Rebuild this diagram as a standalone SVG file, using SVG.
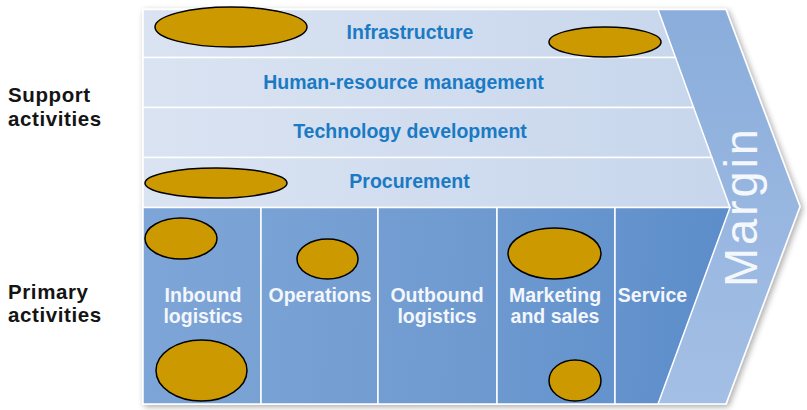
<svg xmlns="http://www.w3.org/2000/svg" width="807" height="410" viewBox="0 0 807 410">
  <defs>
    <linearGradient id="gSup" gradientUnits="userSpaceOnUse" x1="143" y1="0" x2="730" y2="0">
      <stop offset="0" stop-color="#dae3f2"/>
      <stop offset="1" stop-color="#c7d6ec"/>
    </linearGradient>
    <linearGradient id="gPri" gradientUnits="userSpaceOnUse" x1="143" y1="260" x2="730" y2="300">
      <stop offset="0" stop-color="#7ea5d7"/>
      <stop offset="0.5" stop-color="#719cd1"/>
      <stop offset="1" stop-color="#5c8dca"/>
    </linearGradient>
    <linearGradient id="gMar" gradientUnits="userSpaceOnUse" x1="0" y1="9" x2="0" y2="404">
      <stop offset="0" stop-color="#8aaddb"/>
      <stop offset="1" stop-color="#a4bfe5"/>
    </linearGradient>
    <filter id="shadow" x="-5%" y="-5%" width="110%" height="115%">
      <feGaussianBlur in="SourceAlpha" stdDeviation="3"/>
      <feOffset dx="2" dy="2" result="b"/>
      <feComponentTransfer><feFuncA type="linear" slope="0.35"/></feComponentTransfer>
      <feMerge><feMergeNode/><feMergeNode in="SourceGraphic"/></feMerge>
    </filter>
  </defs>
  <style>
    .sup { font-family: "Liberation Sans", Arial, sans-serif; font-weight: bold; font-size: 19.5px; fill: #1a7ac4; text-anchor: middle; }
    .pri { font-family: "Liberation Sans", Arial, sans-serif; font-weight: bold; font-size: 19.5px; fill: #f3f6fb; text-anchor: middle; }
    .side { font-family: "Liberation Sans", Arial, sans-serif; font-weight: bold; font-size: 20.5px; letter-spacing: 0.6px; fill: #141414; }
    .row { fill: url(#gSup); stroke: #ffffff; stroke-width: 1.5; }
    .cell { fill: url(#gPri); stroke: #ffffff; stroke-width: 1.5; }
    .blob { fill: #cc9900; stroke: #000000; stroke-width: 1.5; }
    .mtext { font-family: "Liberation Sans", Arial, sans-serif; font-size: 47px; fill: #f4f7fc; }
  </style>

  <rect width="807" height="410" fill="#ffffff"/>

  <g id="labels">
    <text class="side" x="8" y="102">Support</text>
    <text class="side" x="8" y="125.5">activities</text>
    <text class="side" x="8" y="298.5">Primary</text>
    <text class="side" x="8" y="322">activities</text>
  </g>

  <g id="margin">
    <polygon points="143,9.5 726,9.5 800,206.5 726,404 143,404" fill="url(#gMar)" stroke="#ffffff" stroke-width="1.5" filter="url(#shadow)"/>
    <text class="mtext" transform="translate(757,287) rotate(-90)" x="0" y="0" textLength="158" lengthAdjust="spacing">Margin</text>
  </g>

  <g id="infrastructure">
    <polygon class="row" points="143,9.5 658,9.5 675.5,57.5 143,57.5"/>
    <text class="sup" x="410" y="39">Infrastructure</text>
  </g>
  <g id="hr-management">
    <polygon class="row" points="143,57.5 675.5,57.5 693.6,107.5 143,107.5"/>
    <text class="sup" x="403.5" y="88.5">Human-resource management</text>
  </g>
  <g id="technology-development">
    <polygon class="row" points="143,107.5 693.6,107.5 711.8,157.5 143,157.5"/>
    <text class="sup" x="410" y="138">Technology development</text>
  </g>
  <g id="procurement">
    <polygon class="row" points="143,157.5 711.8,157.5 730,207.5 143,207.5"/>
    <text class="sup" x="409.5" y="188">Procurement</text>
  </g>

  <g id="inbound-logistics">
    <polygon class="cell" points="143,207.5 261,207.5 261,404 143,404"/>
    <text class="pri" x="203" y="302">Inbound</text>
    <text class="pri" x="203" y="322.5">logistics</text>
  </g>
  <g id="operations">
    <polygon class="cell" points="261,207.5 378,207.5 378,404 261,404"/>
    <text class="pri" x="320" y="302">Operations</text>
  </g>
  <g id="outbound-logistics">
    <polygon class="cell" points="378,207.5 497,207.5 497,404 378,404"/>
    <text class="pri" x="437" y="302">Outbound</text>
    <text class="pri" x="437" y="322.5">logistics</text>
  </g>
  <g id="marketing-and-sales">
    <polygon class="cell" points="497,207.5 615,207.5 615,404 497,404"/>
    <text class="pri" x="555" y="302">Marketing</text>
    <text class="pri" x="555" y="322.5">and sales</text>
  </g>
  <g id="service">
    <polygon class="cell" points="615,207.5 730,207.5 658,404 615,404"/>
    <text class="pri" x="652.5" y="302">Service</text>
  </g>

  <g id="highlights">
    <ellipse class="blob" cx="231" cy="27" rx="76" ry="20"/>
    <ellipse class="blob" cx="605" cy="42" rx="56" ry="15"/>
    <ellipse class="blob" cx="216" cy="183" rx="71" ry="15"/>
    <ellipse class="blob" cx="181" cy="238.5" rx="36" ry="20.5"/>
    <ellipse class="blob" cx="201.5" cy="370.5" rx="45.5" ry="30.5"/>
    <ellipse class="blob" cx="327.5" cy="259" rx="30.5" ry="20"/>
    <ellipse class="blob" cx="554.5" cy="253.5" rx="46.5" ry="25.5"/>
    <ellipse class="blob" cx="575" cy="380.5" rx="26" ry="20.5"/>
  </g>
</svg>
